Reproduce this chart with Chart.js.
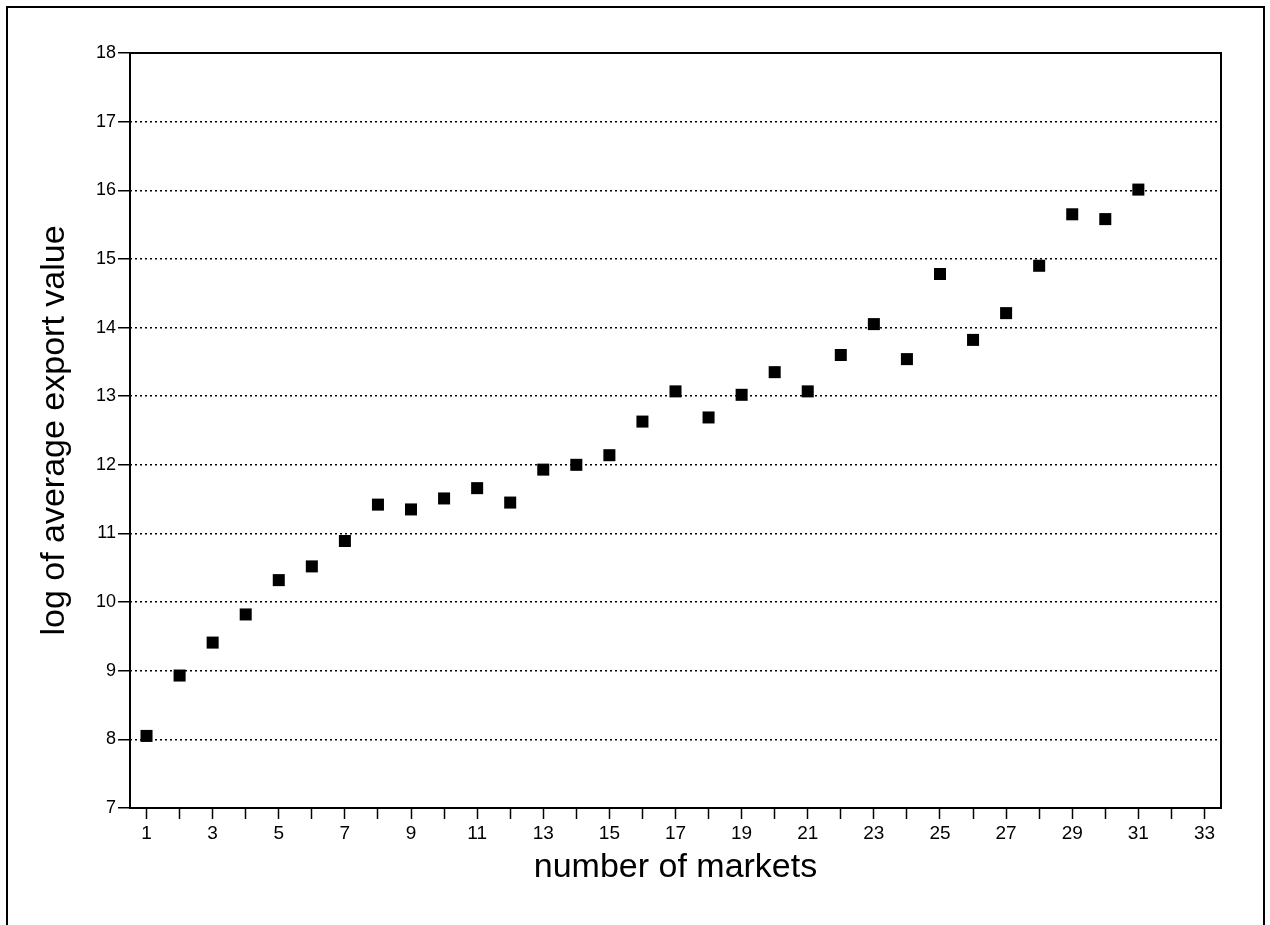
<!DOCTYPE html>
<html>
<head>
<meta charset="utf-8">
<script src="https://cdn.jsdelivr.net/npm/chart.js@4.4.1/dist/chart.umd.min.js"></script>
<style>
  body { margin: 0; background: #fff; }
  #wrap { position: relative; width: 1270px; height: 925px; overflow: hidden; }
  #frame { position: absolute; left: 6px; top: 6px; width: 1255px; height: 960px; border: 2px solid #000; pointer-events: none; }
  canvas { position: absolute; left: 0; top: 0; }
</style>
</head>
<body>
<div id="wrap">
  <canvas id="myChart" width="1270" height="925"></canvas>
  <div id="frame"></div>
</div>
<script>
// number of markets
const markets = [1, 2, 3, 4, 5, 6, 7, 8, 9, 10, 11, 12, 13, 14, 15, 16,
  17, 18, 19, 20, 21, 22, 23, 24, 25, 26, 27, 28, 29, 30, 31];
// log of average export value
const logExport = [8.05, 8.93, 9.41, 9.82, 10.32, 10.52, 10.89, 11.42, 11.35, 11.51,
  11.66, 11.45, 11.93, 12.0, 12.14, 12.63, 13.07, 12.69, 13.02, 13.35, 13.07,
  13.6, 14.05, 13.54, 14.78, 13.82, 14.21, 14.9, 15.65, 15.58, 16.01];
// x tick positions (labels on odd ones only)
const xTicks = [1, 2, 3, 4, 5, 6, 7, 8, 9, 10, 11, 12, 13, 14, 15, 16, 17,
  18, 19, 20, 21, 22, 23, 24, 25, 26, 27, 28, 29, 30, 31, 32, 33];

const xMin = 0.5, xMax = 33.5;
const yMin = 7, yMax = 18;

const font = "'Liberation Sans', Arial, Helvetica, sans-serif";

// solid box round the plot area
const plotBox = {
  id: "plotBox",
  afterDraw(chart) {
    const { ctx, chartArea: a } = chart;
    ctx.save();
    ctx.strokeStyle = "#000";
    ctx.lineWidth = 2;
    ctx.strokeRect(a.left, a.top, a.right - a.left, a.bottom - a.top);
    ctx.restore();
  },
};

const ctx = document.getElementById("myChart").getContext("2d");
const points = markets.map((m, i) => ({ x: m, y: logExport[i] }));

new Chart(ctx, {
  type: "scatter",
  data: {
    datasets: [
      {
        data: points,
        pointStyle: "rect",
        pointRadius: 8.5,
        pointHoverRadius: 8.5,
        backgroundColor: "#000",
        borderColor: "#000",
        borderWidth: 0,
      },
    ],
  },
  options: {
    responsive: false,
    animation: false,
    layout: { padding: { left: 20, top: 53, right: 49, bottom: 20 } },
    plugins: { legend: { display: false }, tooltip: { enabled: false } },
    scales: {
      x: {
        type: "linear",
        min: xMin,
        max: xMax,
        afterBuildTicks(scale) {
          scale.ticks = xTicks.map((v) => ({ value: v }));
        },
        afterFit(scale) {
          scale.height = 97;
        },
        grid: {
          drawOnChartArea: false,
          drawTicks: true,
          tickLength: 11,
          tickColor: "#000",
          tickWidth: 1.5,
        },
        border: { display: false },
        ticks: {
          color: "#000",
          padding: 3,
          maxRotation: 0,
          autoSkip: false,
          font: { family: font, size: 19 },
          callback: (v) => (v % 2 === 1 ? String(v) : ""),
        },
        title: {
          display: true,
          text: "number of markets",
          color: "#000",
          font: { family: font, size: 34 },
          padding: { top: 0, bottom: 17 },
        },
      },
      y: {
        min: yMin,
        max: yMax,
        afterFit(scale) {
          scale.width = 110;
        },
        grid: {
          color: (c) => (c.tick && (c.tick.value === yMin || c.tick.value === yMax) ? "rgba(0,0,0,0)" : "#000"),
          lineWidth: 1.5,
          drawTicks: true,
          tickLength: 12,
          tickColor: "#000",
          tickWidth: 1.5,
        },
        border: { display: false, dash: [2, 3] },
        ticks: {
          stepSize: 1,
          color: "#000",
          padding: 2,
          font: { family: font, size: 18 },
        },
        title: {
          display: true,
          text: "log of average export value",
          color: "#000",
          font: { family: font, size: 34 },
          padding: { top: 14, bottom: 0 },
        },
      },
    },
  },
  plugins: [plotBox],
});
</script>
</body>
</html>
